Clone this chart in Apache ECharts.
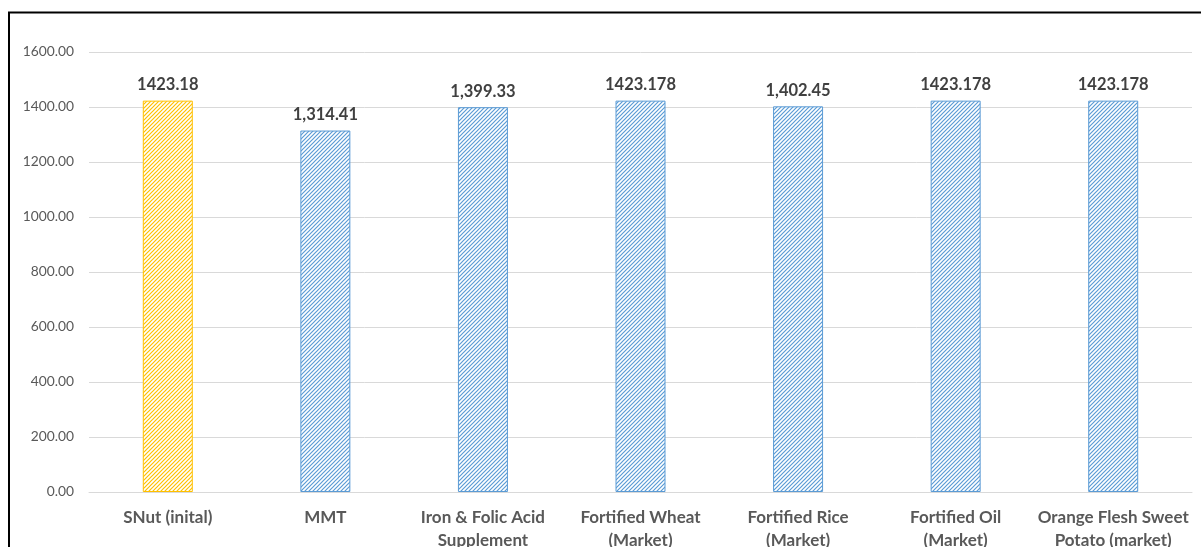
<!DOCTYPE html>
<html><head><meta charset="utf-8">
<script src="https://cdn.jsdelivr.net/npm/echarts@6/dist/echarts.min.js"></script>
<style>html,body{margin:0;padding:0;background:#fff;}#c{width:1201px;height:547px;}</style>
</head><body><div id="c"></div>
<script>
const categories = ["SNut (inital)", "MMT", "Iron & Folic Acid\nSupplement", "Fortified Wheat\n(Market)", "Fortified Rice\n(Market)", "Fortified Oil\n(Market)", "Orange Flesh Sweet\nPotato (market)"];
const values = [1423.18, 1314.41, 1399.33, 1423.178, 1402.45, 1423.178, 1423.178];
const valueLabels = ["1423.18", "1,314.41", "1,399.33", "1423.178", "1,402.45", "1423.178", "1423.178"];
const highlightIndex = 0;

function hatch(color){
  const c = document.createElement('canvas');
  c.width = 4; c.height = 4;
  const g = c.getContext('2d');
  g.fillStyle = '#fff'; g.fillRect(0,0,4,4);
  g.strokeStyle = color; g.lineWidth = 1.2;
  g.beginPath();
  g.moveTo(-1,5); g.lineTo(5,-1);
  g.moveTo(-1,1); g.lineTo(1,-1);
  g.moveTo(3,5); g.lineTo(5,3);
  g.stroke();
  return c;
}
const blue = '#5B9BD5', gold = '#FFC000';
const chart = echarts.init(document.getElementById('c'), null, {renderer:'canvas'});
chart.setOption({
  animation:false,
  textStyle:{fontFamily:'Lato'},
  grid:{left:89, right:9, top:52, bottom:55, containLabel:false, outerBoundsMode:'none'},
  xAxis:{type:'category', data:categories,
    axisLine:{lineStyle:{color:'#D9D9D9', width:1}}, axisTick:{show:false},
    axisLabel:{color:'#595959', fontWeight:'bold', fontSize:17, lineHeight:23, margin:14, interval:0}},
  yAxis:{type:'value', min:0, max:1600, interval:200,
    axisLabel:{color:'#595959', fontSize:13.8, margin:15, formatter:v=>v.toFixed(2)},
    splitLine:{lineStyle:{color:'#D9D9D9'}}, axisLine:{show:false}, axisTick:{show:false}},
  series:[{type:'bar', barWidth:50,
    data: values.map((v,i)=>{const col = i===highlightIndex?gold:blue; return {value:v,
      itemStyle:{color:{image:hatch(col), repeat:'repeat'}, borderColor:col, borderWidth:1}};}),
    label:{show:true, position:'top', distance:7, color:'#404040', fontWeight:'bold', fontSize:16.5,
      formatter:p=>valueLabels[p.dataIndex]}}],
  graphic:[{type:'polyline', shape:{points:[[9,547],[9,12.5],[1201,12.5]]}, style:{stroke:'#000', lineWidth:2, fill:null}}]
});
</script></body></html>
